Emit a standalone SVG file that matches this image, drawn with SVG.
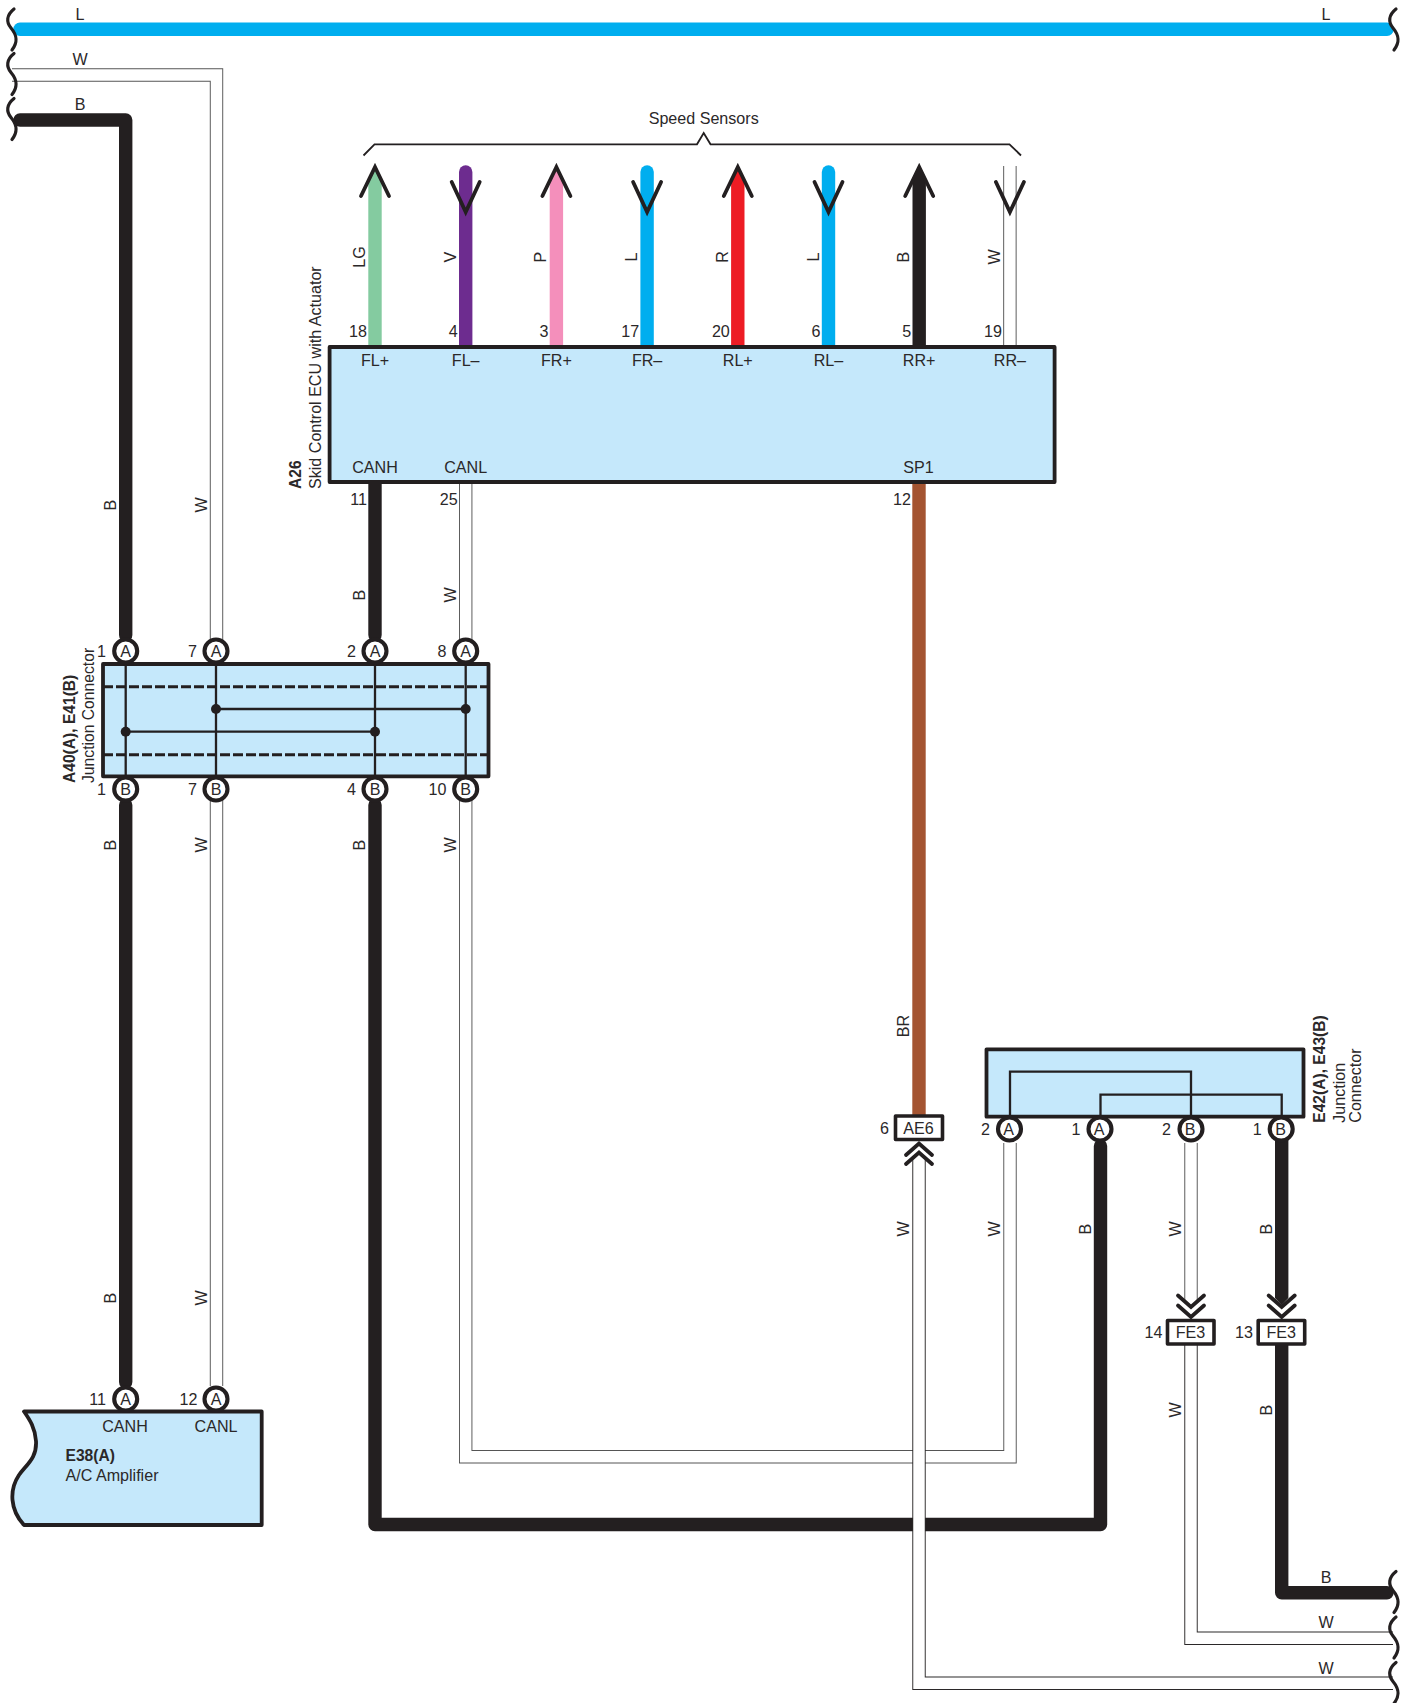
<svg xmlns="http://www.w3.org/2000/svg" width="1411" height="1703" viewBox="0 0 1411 1703">
<style>
text{font-family:"Liberation Sans",Arial,sans-serif;font-size:16.1px;fill:#2b2829}
.m{text-anchor:middle}.e{text-anchor:end}.b{font-weight:bold;font-size:15.6px}
.w{fill:none;stroke-width:13.4;stroke-linejoin:round}
.wc{stroke-linecap:round}
.wo{fill:none;stroke:#555;stroke-width:13.4;stroke-linejoin:miter}
.wd{stroke:#2b2829}
.wi{fill:none;stroke:#fff;stroke-width:11.5;stroke-linejoin:miter}
.box{fill:#C5E8FB;stroke:#231F20;stroke-width:3.8;stroke-linejoin:round}
.lbl{fill:#fff;stroke:#231F20;stroke-width:3.6;stroke-linejoin:round}
.pin{fill:#fff;stroke:#231F20;stroke-width:4.1}
.in{fill:none;stroke:#231F20;stroke-width:2.3}
.dash{fill:none;stroke:#231F20;stroke-width:3;stroke-dasharray:10 3}
.chev{fill:none;stroke:#231F20;stroke-width:3.8;stroke-linecap:round;stroke-linejoin:miter}
.brace{fill:none;stroke:#231F20;stroke-width:3.2;stroke-linecap:round}
.thin{fill:none;stroke:#231F20;stroke-width:1.8}
</style>
<defs>
<path id="br" class="brace" d="M14,9 C6.5,15 6,22 11,28 C16,34 19,41 12,50"/>
<path id="chU" class="chev" d="M-13,11.5 L0,0 L13,11.5"/>
<path id="chD" class="chev" d="M-13,-11.5 L0,0 L13,-11.5"/>
<path id="arU" class="chev" d="M-14,30 L0,1 L14,30"/>
<path id="arD" class="chev" d="M-14,-30 L0,0 L14,-30"/>
<path id="upw" d="M-6.7,346 V182 L0,168 L6.7,182 V346 Z"/>
<circle id="p" class="pin" r="11.5"/>
</defs>

<g id="connectors">
<path class="w wc" stroke="#00AEEF" d="M20,29.3 H1387"/>
<path class="wo" d="M12,75 H216.5 V640"/><path class="wi" d="M12,75 H216.5 V640"/>
<path class="w wc" stroke="#231F20" d="M20,120 H125.7 V635"/>
<path class="w wc" stroke="#231F20" d="M125.7,805 V1382"/>
<path class="wo" d="M216.5,800 V1386"/><path class="wi" d="M216.5,800 V1386"/>
<path class="w wc" stroke="#231F20" d="M375,482 V635"/>
<path class="wo" d="M465.7,482 V640"/><path class="wi" d="M465.7,482 V640"/>
<path class="wo" d="M465.7,800 V1456.7 H1010 V1143"/><path class="wi" d="M465.7,800 V1456.7 H1010 V1143"/>
<path class="w wc" stroke="#231F20" d="M375,805 V1524.5 H1100.5 V1146"/>
<path class="w" stroke="#A45431" d="M919,482 V1116"/>
<path class="wo wd" d="M919,1160 V1683.3 H1393"/><path class="wi" d="M919,1160 V1683.3 H1393"/>
<path class="wo" d="M1191,1143 V1301"/><path class="wi" d="M1191,1143 V1301"/>
<path class="wo wd" d="M1191,1345 V1638.2 H1393"/><path class="wi" d="M1191,1345 V1638.2 H1393"/>
<path fill="#231F20" d="M1275,1130 H1288.4 V1298 L1281.7,1305 L1275,1298 Z"/>
<path class="w wc" stroke="#231F20" d="M1281.7,1345 V1592.7 H1387"/>
<use href="#upw" x="375" fill="#84CBA0"/>
<path class="w wc" stroke="#6D2C8F" d="M465.7,172 V346"/>
<use href="#upw" x="556.4" fill="#F48FBB"/>
<path class="w wc" stroke="#00AEEF" d="M647.1,172 V346"/>
<use href="#upw" x="737.8" fill="#ED1C24"/>
<path class="w wc" stroke="#00AEEF" d="M828.5,172 V346"/>
<use href="#upw" x="919.2" fill="#231F20"/>
<path class="wo" d="M1009.9,166 V346"/><path class="wi" d="M1009.9,166 V346"/>
<use href="#arU" x="375" y="166"/><use href="#arD" x="465.7" y="212"/>
<use href="#arU" x="556.4" y="166"/><use href="#arD" x="647.1" y="212"/>
<use href="#arU" x="737.8" y="166"/><use href="#arD" x="828.5" y="212"/>
<use href="#arU" x="919.2" y="166"/><use href="#arD" x="1009.9" y="212"/>
<use href="#chU" x="919" y="1143.5"/><use href="#chU" x="919" y="1152.5"/>
<use href="#chD" x="1191" y="1307"/><use href="#chD" x="1191" y="1317"/>
<use href="#chD" x="1281.7" y="1307"/><use href="#chD" x="1281.7" y="1317"/>
<use href="#br"/><use href="#br" y="44.5"/><use href="#br" y="89.5"/>
<use href="#br" x="1382"/>
<use href="#br" x="1382" y="1562.5"/><use href="#br" x="1382" y="1608"/><use href="#br" x="1382" y="1653.5"/>
<text class="m" x="80" y="20">L</text><text class="m" x="1326" y="20">L</text>
<text class="m" x="80" y="65">W</text><text class="m" x="80" y="110">B</text>
<text class="m" x="1326" y="1582.5">B</text><text class="m" x="1326" y="1627.8">W</text><text class="m" x="1326" y="1673.8">W</text>
<text class="m" transform="translate(115.7,505) rotate(-90)">B</text>
<text class="m" transform="translate(206.5,505) rotate(-90)">W</text>
<text class="m" transform="translate(365,595) rotate(-90)">B</text>
<text class="m" transform="translate(455.7,595) rotate(-90)">W</text>
<text class="m" transform="translate(115.7,845) rotate(-90)">B</text>
<text class="m" transform="translate(206.5,845) rotate(-90)">W</text>
<text class="m" transform="translate(365,845) rotate(-90)">B</text>
<text class="m" transform="translate(455.7,845) rotate(-90)">W</text>
<text class="m" transform="translate(115.7,1298) rotate(-90)">B</text>
<text class="m" transform="translate(206.5,1298) rotate(-90)">W</text>
<text class="m" transform="translate(365,257) rotate(-90)">LG</text>
<text class="m" transform="translate(455.7,257) rotate(-90)">V</text>
<text class="m" transform="translate(546.4,257) rotate(-90)">P</text>
<text class="m" transform="translate(637.1,257) rotate(-90)">L</text>
<text class="m" transform="translate(727.8,257) rotate(-90)">R</text>
<text class="m" transform="translate(818.5,257) rotate(-90)">L</text>
<text class="m" transform="translate(909.2,257) rotate(-90)">B</text>
<text class="m" transform="translate(999.9,257) rotate(-90)">W</text>
<text class="m" transform="translate(909,1026) rotate(-90)">BR</text>
<text class="m" transform="translate(909,1229) rotate(-90)">W</text>
<text class="m" transform="translate(1000,1229) rotate(-90)">W</text>
<text class="m" transform="translate(1090.5,1229) rotate(-90)">B</text>
<text class="m" transform="translate(1181,1229) rotate(-90)">W</text>
<text class="m" transform="translate(1271.7,1229) rotate(-90)">B</text>
<text class="m" transform="translate(1181,1410) rotate(-90)">W</text>
<text class="m" transform="translate(1271.7,1410) rotate(-90)">B</text>
</g>

<g id="speed-sensors">
<path class="thin" d="M363.5,155.5 L374.5,144.3 H697 L703.7,133 L710.5,144.3 H1009.5 L1021,155.5"/>
<text class="m" x="703.7" y="123.7">Speed Sensors</text>
</g>

<g id="A26">
<rect class="box" x="329.6" y="347" width="725" height="135"/>
<text class="e" x="367" y="337">18</text><text class="e" x="457.7" y="337">4</text><text class="e" x="548.4" y="337">3</text><text class="e" x="639.1" y="337">17</text><text class="e" x="729.8" y="337">20</text><text class="e" x="820.5" y="337">6</text><text class="e" x="911.2" y="337">5</text><text class="e" x="1001.9" y="337">19</text>
<text class="m" x="375" y="366.2">FL+</text><text class="m" x="465.7" y="366.2">FL–</text><text class="m" x="556.4" y="366.2">FR+</text><text class="m" x="647.1" y="366.2">FR–</text><text class="m" x="737.8" y="366.2">RL+</text><text class="m" x="828.5" y="366.2">RL–</text><text class="m" x="919.2" y="366.2">RR+</text><text class="m" x="1009.9" y="366.2">RR–</text>
<text class="m" x="375" y="472.5">CANH</text><text class="m" x="465.7" y="472.5">CANL</text><text class="m" x="918.5" y="472.5">SP1</text>
<text class="e" x="367" y="504.5">11</text><text class="e" x="457.7" y="504.5">25</text><text class="e" x="911" y="504.5">12</text>
<text class="b" transform="translate(301,489) rotate(-90)">A26</text>
<text transform="translate(321,489) rotate(-90)">Skid Control ECU with Actuator</text>
</g>

<g id="A40-E41">
<rect class="box" x="103" y="664" width="385.5" height="112.3"/>
<path class="dash" d="M103,686.7 H488"/><path class="dash" d="M103,754.7 H488"/>
<path class="in" d="M125.7,664 V776 M216,664 V776 M375,664 V776 M465.7,664 V776 M216,709 H465.7 M125.7,731.7 H375"/>
<circle cx="216" cy="709" r="5" fill="#231F20"/><circle cx="465.7" cy="709" r="5" fill="#231F20"/><circle cx="125.7" cy="731.7" r="5" fill="#231F20"/><circle cx="375" cy="731.7" r="5" fill="#231F20"/>
<use href="#p" x="125.7" y="651"/><use href="#p" x="216" y="651"/><use href="#p" x="375" y="651"/><use href="#p" x="465.7" y="651"/>
<use href="#p" x="125.7" y="789"/><use href="#p" x="216" y="789"/><use href="#p" x="375" y="789"/><use href="#p" x="465.7" y="789"/>
<text class="m" x="125.7" y="656.8">A</text><text class="m" x="216" y="656.8">A</text><text class="m" x="375" y="656.8">A</text><text class="m" x="465.7" y="656.8">A</text>
<text class="m" x="125.7" y="794.8">B</text><text class="m" x="216" y="794.8">B</text><text class="m" x="375" y="794.8">B</text><text class="m" x="465.7" y="794.8">B</text>
<text class="e" x="106" y="656.5">1</text><text class="e" x="197" y="656.5">7</text><text class="e" x="356" y="656.5">2</text><text class="e" x="446.5" y="656.5">8</text>
<text class="e" x="106" y="794.5">1</text><text class="e" x="197" y="794.5">7</text><text class="e" x="356" y="794.5">4</text><text class="e" x="446.5" y="794.5">10</text>
<text class="b" transform="translate(75,783) rotate(-90)">A40(A), E41(B)</text>
<text transform="translate(93.5,783) rotate(-90)" style="font-size:15.7px">Junction Connector</text>
</g>

<g id="E38">
<path class="box" d="M24,1411.5 H261.7 V1525 H24 C10,1510 9,1490 19,1475 C27,1464 37,1458 36,1441 C35,1428 30,1420 24,1411.5 Z"/>
<use href="#p" x="125.7" y="1399"/><use href="#p" x="216" y="1399"/>
<text class="m" x="125.7" y="1404.8">A</text><text class="m" x="216" y="1404.8">A</text>
<text class="e" x="106" y="1404.8">11</text><text class="e" x="197.5" y="1404.8">12</text>
<text class="m" x="125" y="1431.5">CANH</text><text class="m" x="216" y="1431.5">CANL</text>
<text class="b" x="65.5" y="1461">E38(A)</text><text x="65.5" y="1480.5">A/C Amplifier</text>
</g>

<g id="E42-E43">
<rect class="box" x="986.5" y="1049.3" width="317" height="67.4"/>
<path class="in" d="M1010,1117 V1071.7 H1191 V1117 M1100.5,1117 V1094.7 H1281.7 V1117"/>
<use href="#p" x="1009.5" y="1129"/><use href="#p" x="1100" y="1129"/><use href="#p" x="1191" y="1129"/><use href="#p" x="1281.2" y="1129"/>
<text class="m" x="1008.5" y="1134.8">A</text><text class="m" x="1099" y="1134.8">A</text><text class="m" x="1190" y="1134.8">B</text><text class="m" x="1280.5" y="1134.8">B</text>
<text class="e" x="990" y="1134.8">2</text><text class="e" x="1080.5" y="1134.8">1</text><text class="e" x="1171" y="1134.8">2</text><text class="e" x="1261.7" y="1134.8">1</text>
<text class="b" transform="translate(1325,1122.7) rotate(-90)">E42(A), E43(B)</text>
<text transform="translate(1345,1122.7) rotate(-90)">Junction</text>
<text transform="translate(1360.5,1122.7) rotate(-90)">Connector</text>
</g>

<g id="AE6"><rect class="lbl" x="895.5" y="1116" width="47" height="23.5"/><text class="m" x="918.5" y="1133.6">AE6</text><text class="e" x="889" y="1133.6">6</text></g>
<g id="FE3-14"><rect class="lbl" x="1167.5" y="1320.5" width="46.5" height="23.5"/><text class="m" x="1190.5" y="1337.5">FE3</text><text class="e" x="1162.5" y="1337.5">14</text></g>
<g id="FE3-13"><rect class="lbl" x="1258.2" y="1320.5" width="46.5" height="23.5"/><text class="m" x="1281.2" y="1337.5">FE3</text><text class="e" x="1253" y="1337.5">13</text></g>
</svg>
